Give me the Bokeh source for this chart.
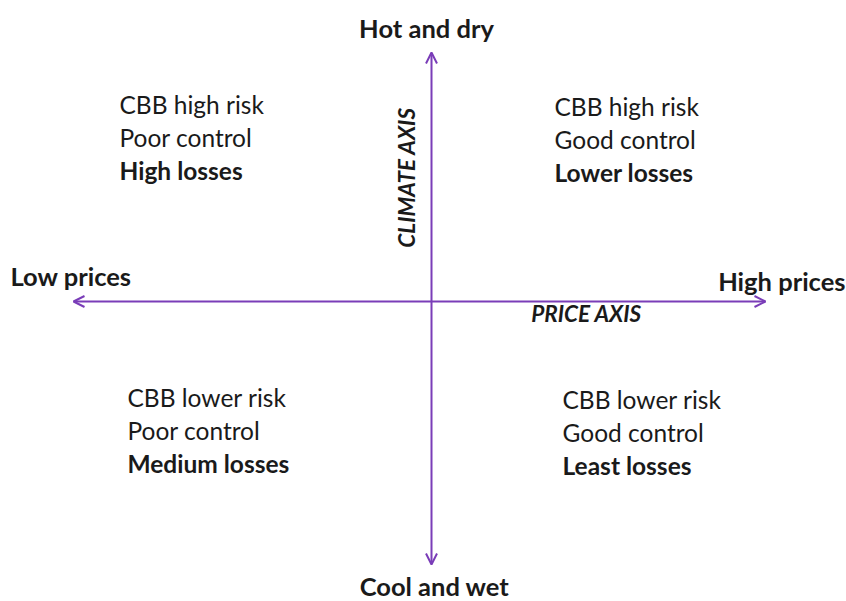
from bokeh.plotting import figure
from bokeh.models import Range1d, Arrow, OpenHead, ColumnDataSource
from bokeh.core.properties import value
from bokeh.embed import file_html
from bokeh.resources import INLINE

# ---- content ----
axis_end_labels = ["Hot and dry", "Cool and wet", "Low prices", "High prices"]
axis_names = ["PRICE AXIS", "CLIMATE AXIS"]
quadrant_tl = ["CBB high risk", "Poor control", "High losses"]
quadrant_tr = ["CBB high risk", "Good control", "Lower losses"]
quadrant_bl = ["CBB lower risk", "Poor control", "Medium losses"]
quadrant_br = ["CBB lower risk", "Good control", "Least losses"]
line_styles = ["normal", "normal", "bold"]

FONT = "Lato"
PURPLE = "#7a3db8"
TXT = "#1a1a1a"

W, H = 846, 601
p = figure(width=W, height=H, output_backend="svg", toolbar_location=None,
           x_range=Range1d(0, W), y_range=Range1d(H, 0),
           min_border=0)
p.axis.visible = False
p.grid.visible = False
p.outline_line_color = None
p.background_fill_color = "white"
p.border_fill_color = "white"

# axes arrows
p.add_layout(Arrow(start=OpenHead(size=11, line_color=PURPLE, line_width=2),
                   end=OpenHead(size=11, line_color=PURPLE, line_width=2),
                   x_start=73, y_start=301, x_end=765, y_end=301,
                   line_color=PURPLE, line_width=2))
p.add_layout(Arrow(start=OpenHead(size=11, line_color=PURPLE, line_width=2),
                   end=OpenHead(size=11, line_color=PURPLE, line_width=2),
                   x_start=431, y_start=52, x_end=431, y_end=564,
                   line_color=PURPLE, line_width=2))

# axis end labels
ends_x = [426, 434, 10, 845]
ends_y = [27, 585, 275, 280]
ends_align = ["center", "center", "left", "right"]
p.text(x=ends_x, y=ends_y, text=axis_end_labels, text_align=ends_align,
       text_baseline="middle", text_font=value(FONT), text_font_style="bold",
       text_font_size="25.5px", text_color=TXT)

# axis names
p.text(x=[586], y=[313], text=[axis_names[0]], text_align="center",
       text_baseline="middle", text_font=value(FONT), text_font_style="bold italic",
       text_font_size="22.5px", text_color=TXT)
p.text(x=[406], y=[177], text=[axis_names[1]], text_align="center",
       text_baseline="middle", text_font=value(FONT), text_font_style="bold italic",
       text_font_size="22.5px", text_color=TXT, angle=1.5708)

# quadrant texts
def quad(lines, x0, y0):
    src = ColumnDataSource(dict(x=[x0] * 3, y=[y0 + 33 * i for i in range(3)],
                                t=lines, s=line_styles))
    p.text(x="x", y="y", text="t", text_font_style="s", source=src,
           text_align="left", text_baseline="middle", text_font=value(FONT),
           text_font_size="24.5px", text_color=TXT)

quad(quadrant_tl, 119, 104)
quad(quadrant_tr, 554, 106)
quad(quadrant_bl, 127, 397)
quad(quadrant_br, 562, 399)

open("out.html", "w").write(file_html(p, INLINE))
